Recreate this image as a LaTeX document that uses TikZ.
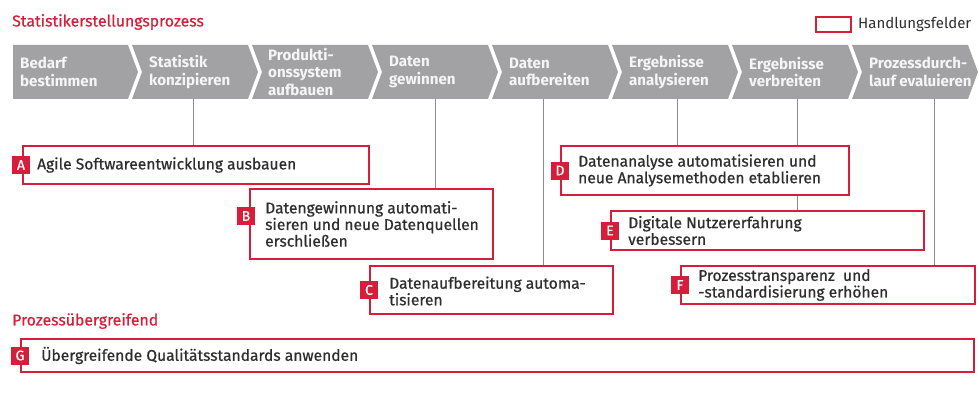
\documentclass[tikz,border=0pt]{standalone}
\usepackage{fontspec}
\setmainfont{Fira Sans}
\newfontfamily\medfont{Fira Sans}[FakeBold=0.6]
\definecolor{destred}{HTML}{D61E3A}
\definecolor{chevgray}{HTML}{A2A2A4}
\definecolor{chevtext}{HTML}{F5F5F5}
\definecolor{bodytext}{HTML}{2E2E2E}
\definecolor{linegray}{HTML}{8C8C8C}
\tikzset{
  chev/.style={fill=chevgray},
  chevlabel/.style={anchor=west, align=left, text=chevtext, inner sep=0pt,
    font=\fontsize{15.1}{17.5}\selectfont\bfseries},
  fieldbox/.style={draw=destred, line width=2pt, fill=white, rectangle,
    anchor=north west, inner sep=0pt},
  fieldtext/.style={anchor=west, align=left, text=bodytext, inner sep=0pt,
    font=\medfont\fontsize{15.6}{16.6}\selectfont},
  tag/.style={fill=destred, text=white, minimum size=18pt, inner sep=0pt,
    font=\medfont\fontsize{14}{14}\selectfont},
  conn/.style={draw=linegray, line width=1pt},
  heading/.style={anchor=west, text=destred, inner sep=0pt,
    font=\medfont\fontsize{15.8}{17}\selectfont},
}
\begin{document}
\begin{tikzpicture}[x=1pt,y=-1pt]
\useasboundingbox (0,0) rectangle (979,417);

% headings and legend
\node[heading] (title) at (12,22) {Statistikerstellungsprozess};
\node[heading] (cross) at (12,321) {Prozessübergreifend};
\node[draw=destred, line width=2pt, minimum width=35pt, minimum height=15pt,
  inner sep=0pt] (legbox) at (833.5,25) {};
\node[anchor=west, text=bodytext, inner sep=0pt,
  font=\fontsize{15}{16}\selectfont] (legtext) at (858,24) {Handlungsfelder};

% process chevrons
\fill[chev] (13,45) -- (128,45) -- (138,72) -- (128,99) -- (13,99) -- cycle;
\foreach \k in {1,...,7}{
  \fill[chev] ({12+120*\k},45) -- ({128+120*\k},45) -- ({138+120*\k},72)
    -- ({128+120*\k},99) -- ({12+120*\k},99) -- ({22+120*\k},72) -- cycle;
}
\node[chevlabel] (s1) at (20,72) {Bedarf\\bestimmen};
\node[chevlabel] (s2) at (149,72) {Statistik\\konzipieren};
\node[chevlabel] (s3) at (268,72) {Produkti-\\onssystem\\aufbauen};
\node[chevlabel] (s4) at (389,72) {Daten\\gewinnen};
\node[chevlabel] (s5) at (509,72) {Daten\\aufbereiten};
\node[chevlabel] (s6) at (629,72) {Ergebnisse\\analysieren};
\node[chevlabel] (s7) at (749,72) {Ergebnisse\\verbreiten};
\node[chevlabel] (s8) at (869,72) {Prozessdurch-\\lauf evaluieren};

% connector start points on the lower edge of the chevron band
\coordinate (k2) at (193,99);
\coordinate (k4) at (435,99);
\coordinate (k5) at (543,99);
\coordinate (k6) at (677,99);
\coordinate (k7) at (797,99);
\coordinate (k8) at (934,99);

% field boxes (empty frames first, so the connectors can end on them)
\path (22,145) node[fieldbox, minimum width=346pt, minimum height=38pt] (A) {};
\path (249,188) node[fieldbox, minimum width=243pt, minimum height=70pt] (B) {};
\path (369,265) node[fieldbox, minimum width=243pt, minimum height=48pt] (C) {};
\path (560,145) node[fieldbox, minimum width=288pt, minimum height=49pt] (D) {};
\path (610,210) node[fieldbox, minimum width=313pt, minimum height=39pt] (E) {};
\path (680,265) node[fieldbox, minimum width=294pt, minimum height=38pt] (F) {};
\path (20,338) node[fieldbox, minimum width=953pt, minimum height=33pt] (G) {};

% connectors from the process steps down to the fields
\draw[conn] (k2) -- (k2 |- A.north);
\draw[conn] (k4) -- (k4 |- B.north);
\draw[conn] (k5) -- (k5 |- C.north);
\draw[conn] (k6) -- (k6 |- D.north);
\draw[conn] (k7) -- (k7 |- D.north);
\draw[conn] (k7 |- D.south) -- (k7 |- E.north);
\draw[conn] (k8) -- (k8 |- F.north);

% texts in the boxes
\node[fieldtext] (At) at ([xshift=15pt]A.west) {Agile Softwareentwicklung ausbauen};
\node[fieldtext] (Bt) at ([xshift=16pt]B.west) {Datengewinnung automati-\\sieren und neue Datenquellen\\erschließen};
\node[fieldtext] (Ct) at ([xshift=20pt,yshift=-1pt]C.west) {Datenaufbereitung automa-\\tisieren};
\node[fieldtext] (Dt) at ([xshift=18pt]D.west) {Datenanalyse automatisieren und\\neue Analysemethoden etablieren};
\node[fieldtext] (Et) at ([xshift=18pt]E.west) {Digitale Nutzererfahrung\\verbessern};
\node[fieldtext] (Ft) at ([xshift=18pt]F.west) {Prozesstransparenz\ \ und\\-standardisierung erhöhen};
\node[fieldtext] (Gt) at ([xshift=21pt]G.west) {Übergreifende Qualitätsstandards anwenden};

% letter tags on the left edges
\node[tag] (Aq) at ([xshift=-1pt]A.west) {A};
\node[tag] (Bq) at ([xshift=-3pt,yshift=8pt]B.west) {B};
\node[tag] (Cq) at (C.west) {C};
\node[tag] (Dq) at (D.west) {D};
\node[tag] (Eq) at (E.west) {E};
\node[tag] (Fq) at (F.west) {F};
\node[tag] (Gq) at (G.west) {G};
\end{tikzpicture}
\end{document}
